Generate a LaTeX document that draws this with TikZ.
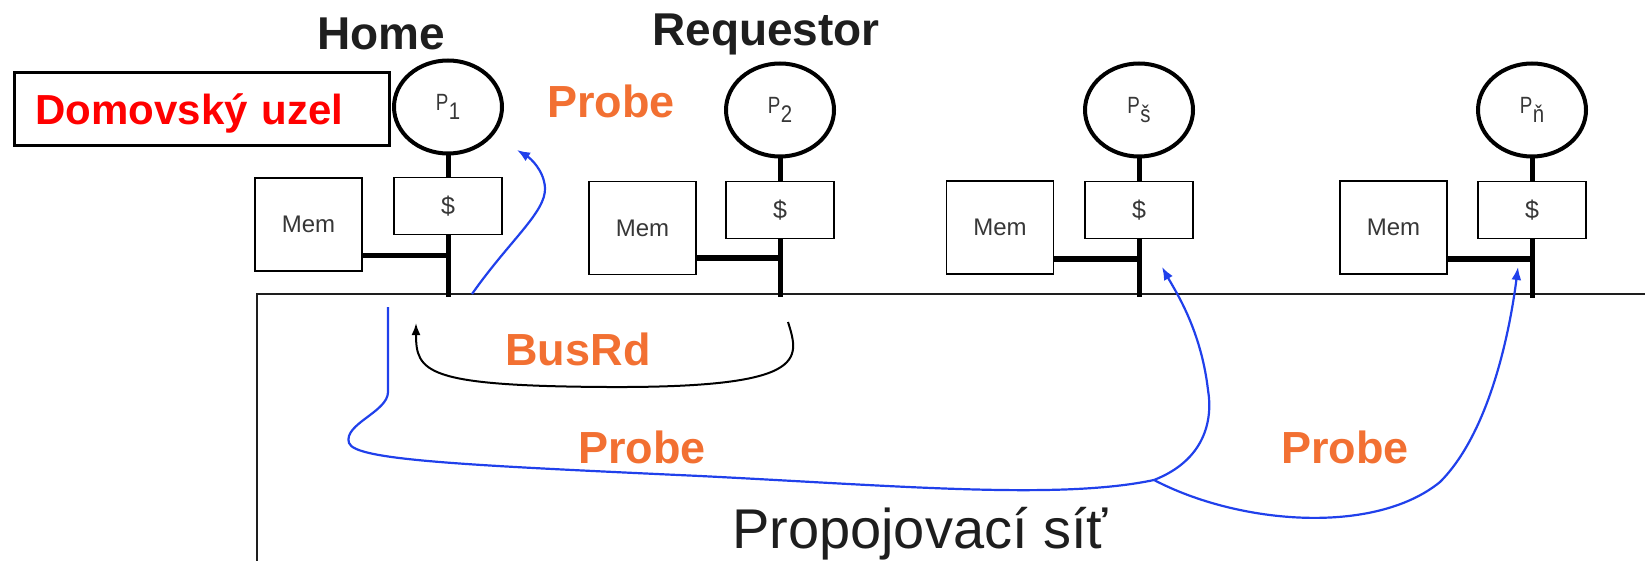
\documentclass[tikz,border=0pt]{standalone}
\usepackage{fontspec}
\usepackage{graphicx}
\setmainfont{Liberation Sans}
\usetikzlibrary{shapes.geometric,arrows.meta}
\definecolor{probeor}{RGB}{242,112,50}
\definecolor{probeblue}{RGB}{32,64,235}
\definecolor{labgray}{RGB}{55,55,55}
\definecolor{inkdark}{RGB}{30,30,30}
% processor label: a narrow P with a lowered index
\newcommand\procsub[1]{\scalebox{0.8}[1]{P}\kern0.5pt\raisebox{-8.5pt}{\fontsize{24}{25}\selectfont\scalebox{0.85}[1]{#1}}}
\begin{document}
\begin{tikzpicture}[x=1pt,y=-1pt,
  proc/.style={ellipse, draw, line width=4pt, minimum width=108pt, minimum height=93pt,
    inner sep=0pt, text=labgray, font=\fontsize{23.5}{24}\selectfont},
  cachebox/.style={rectangle, draw, line width=1.6pt, minimum width=108pt, minimum height=57pt,
    inner sep=0pt, text=labgray, font=\fontsize{25}{26}\selectfont},
  membox/.style={rectangle, draw, line width=1.6pt, minimum width=107pt, minimum height=93pt,
    inner sep=0pt, text=labgray, font=\fontsize{24}{26}\selectfont},
  bus/.style={line width=5pt},
  net/.style={line width=2pt, draw=inkdark},
  title/.style={anchor=base, text=inkdark, font=\bfseries\fontsize{46}{50}\selectfont},
  msg/.style={anchor=base, text=probeor, font=\bfseries\fontsize{45}{50}\selectfont},
  probe/.style={draw=probeblue, line width=2.2pt, -{Latex[length=13pt,width=10pt]}},
  probeline/.style={draw=probeblue, line width=2.2pt},
  busrd/.style={draw=black, line width=2pt, -{Latex[length=12pt,width=9pt]}},
  dombox/.style={rectangle, draw, line width=2.8pt, anchor=north west, minimum width=375pt,
    minimum height=73pt, inner xsep=21pt, text width=333pt, align=left,
    text height=33pt, text depth=2pt, text=red, font=\bfseries\fontsize{42}{44}\selectfont}
]
\useasboundingbox (0,0) rectangle (1645,561);

% interconnection network frame
\coordinate (nwc) at (257,294);
\draw[net] (257,570) -- (nwc) -- (1655,294);
\node[anchor=base, text=inkdark, font=\fontsize{56}{60}\selectfont] (netlab) at (920,548) {Propojovací síť};

% processors, caches and memories
\node[proc] (p1) at (448,107) {\procsub{1}};
\node[proc] (p2) at (780,110) {\procsub{2}};
\node[proc] (p3) at (1139,110) {\procsub{š}};
\node[proc] (p4) at (1532,110) {\procsub{ň}};

\node[cachebox] (c1) at (448,206) {\$};
\node[cachebox] (c2) at (780,210) {\$};
\node[cachebox] (c3) at (1139,210) {\$};
\node[cachebox] (c4) at (1532,210) {\$};

\node[membox] (m1) at (308.5,224.5) {\raisebox{-3pt}{Mem}};
\node[membox] (m2) at (642.5,228) {\raisebox{-3pt}{Mem}};
\node[membox] (m3) at (1000,227.5) {\raisebox{-3pt}{Mem}};
\node[membox] (m4) at (1393.5,227.5) {\raisebox{-3pt}{Mem}};

% node buses
\coordinate (j1) at (448,256);  \coordinate (b1) at (448,297);
\coordinate (j2) at (780,258);  \coordinate (b2) at (780,297);
\coordinate (j3) at (1139,259); \coordinate (b3) at (1139,297);
\coordinate (j4) at (1532,259); \coordinate (b4) at (1532,298);
\foreach \k in {1,2,3,4}{
  \draw[bus] (p\k.south) -- (c\k.north);
  \draw[bus] (c\k.south) -- (b\k);
  \draw[bus] (m\k.east |- j\k) -- (j\k);
}

% titles and labels
\node[title] (home) at (381,50) {Home};
\node[title] (req) at (766,46) {Requestor};
\node[dombox] (dom) at (13,71) {Domovský uzel};
\node[msg] (probeA) at (611,118) {Probe};
\node[msg] (busrdlab) at (578,365) {BusRd};
\node[msg] (probeB) at (642,463) {Probe};
\node[msg] (probeC) at (1345,463) {Probe};

% probe answer towards the home node
\coordinate (hs) at (472,294);
\coordinate (ht) at (517,150);
\draw[probe] (hs) .. controls (510,240) and (546,212) .. (545,188)
  .. controls (544,170) and (530,158) .. (ht);

% bus read from the requestor
\coordinate (rs) at (788,322);
\coordinate (rt) at (416,323);
\draw[busrd] (rs) .. controls (800,360) and (808,388) .. (607,387)
  .. controls (425,386) and (416,372) .. (rt);

% probes sent through the network
\coordinate (ps) at (388,307);
\coordinate (pf) at (1154,480);
\coordinate (pt3) at (1162,267);
\coordinate (pt4) at (1518,267);
\draw[probeline] (ps) -- (388,392) .. controls (388,412) and (343,424) .. (349,443)
  .. controls (355,460) and (460,465) .. (700,476)
  .. controls (900,486) and (1060,500) .. (pf);
\draw[probe] (pf) .. controls (1205,460) and (1213,420) .. (1208,390)
  .. controls (1201,330) and (1176,292) .. (pt3);
\draw[probe] (pf) .. controls (1240,525) and (1375,535) .. (1440,482)
  .. controls (1490,432) and (1510,330) .. (pt4);
\end{tikzpicture}
\end{document}
